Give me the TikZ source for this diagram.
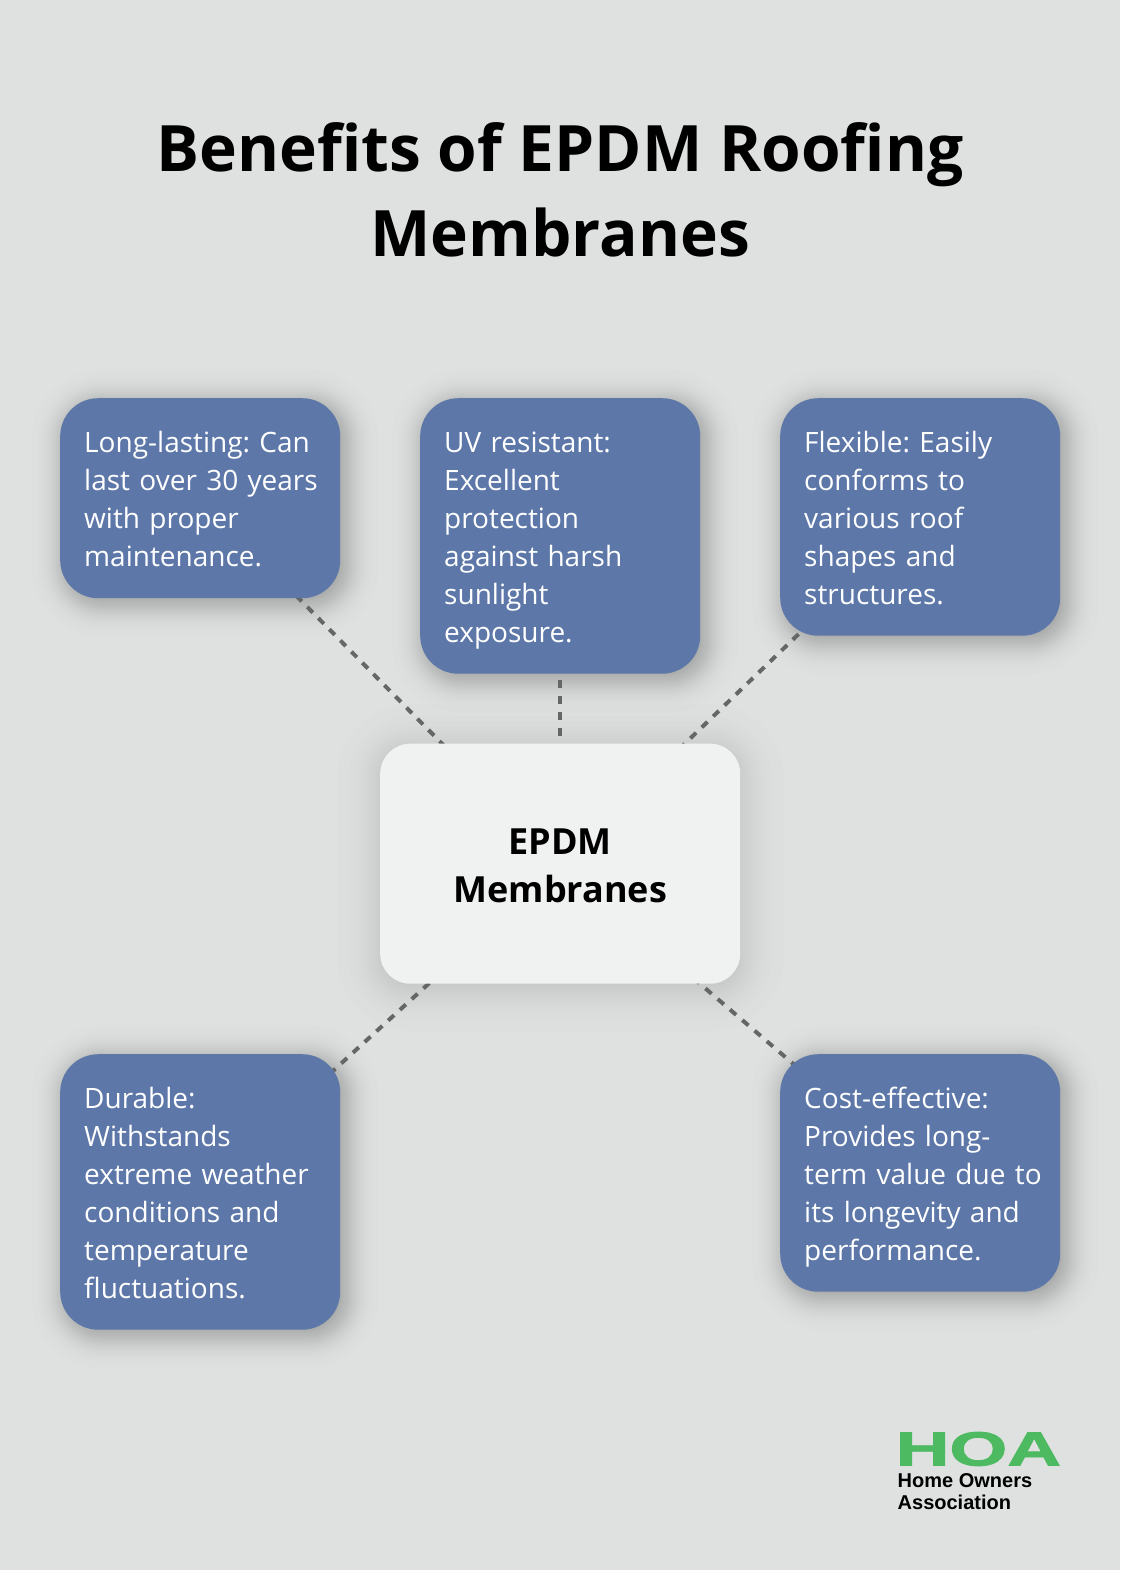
\documentclass[tikz,border=0pt]{standalone}
\usepackage{fontspec}
\usepackage{graphicx}
\setmainfont{Open Sans}
\newfontfamily\logofont[BoldFeatures={FakeBold=1.6}]{Liberation Sans}
\newfontfamily\logonamefont{Liberation Sans}
\usetikzlibrary{calc}
\pgfdeclarelayer{shadowlayer}
\pgfdeclarelayer{linklayer}
\pgfsetlayers{shadowlayer,linklayer,main}
\definecolor{bgc}{HTML}{DEE1E0}
\definecolor{bluec}{HTML}{5C77A8}
\definecolor{paleC}{HTML}{F0F2F1}
\definecolor{dashc}{HTML}{666666}
\definecolor{logog}{HTML}{4DB961}
% Gaussian-like soft shadow of a card: node only
\newcommand{\cardshadow}[1]{%
  \foreach \z in {2.24,1.78,1.54,1.37,1.23,1.11,1.01,0.91,0.82,0.74,0.66,0.59,0.52,0.45,0.39,0.32,0.26,0.19,0.13,0.06,-0.06,-0.13,-0.19,-0.26,-0.32,-0.39,-0.45,-0.52,-0.59,-0.66}{%
    \pgfmathsetmacro{\sz}{15*\z}%
    \pgfmathsetmacro{\rr}{max(38+\sz,1)}%
    \fill[black,fill opacity=0.0089,rounded corners=\rr pt]
      ($(#1.north west)+(5-\sz,5-\sz)$) rectangle ($(#1.south east)+(5+\sz,5+\sz)$);
  }%
}
% Wider, fainter shadow of the central box
\newcommand{\hubshadow}[1]{%
  \foreach \z in {1.96,1.44,1.15,0.93,0.76,0.60,0.45,0.32,0.19,0.06,-0.06,-0.19,-0.32,-0.45,-0.60,-0.76,-0.93}{%
    \pgfmathsetmacro{\sz}{22*\z}%
    \pgfmathsetmacro{\rr}{max(30+\sz,1)}%
    \fill[black,fill opacity=0.0081,rounded corners=\rr pt]
      ($(#1.north west)+(-\sz,4-\sz)$) rectangle ($(#1.south east)+(\sz,4+\sz)$);
  }%
}
\frenchspacing
\tikzset{
  card/.style={anchor=north west,fill=bluec,text=white,rounded corners=38pt,
    minimum width=280pt,text width=232pt,inner xsep=24pt,inner ysep=0pt,align=left,
    font=\fontsize{28}{38}\selectfont\frenchspacing,
    execute at begin node={\fontsize{28}{38}\selectfont\fontdimen2\font=5.3pt\relax\rule[-7.5pt]{0pt}{38.5pt}},
    execute at end node=\rule[-7.5pt]{0pt}{38.5pt}},
  hub/.style={anchor=north west,fill=paleC,text=black,rounded corners=30pt,
    minimum width=360pt,minimum height=240pt,align=center,inner sep=0pt,
    font=\fontsize{36}{48}\selectfont\bfseries},
  link/.style 2 args={dashc,line width=4pt,dash pattern=on #1pt off #1pt,dash phase=#2pt},
  heading/.style={align=center,inner sep=0pt,font=\fontsize{64}{85}\selectfont\bfseries},
  logoname/.style={align=left,inner sep=0pt,text=black,font=\logonamefont\bfseries\fontsize{20}{22}\selectfont},
}
\begin{document}
\begin{tikzpicture}[x=1pt,y=-1pt]
\useasboundingbox (0,0) rectangle (1120,1570);
\begin{pgfonlayer}{shadowlayer}
\fill[bgc] (0,0) rectangle (1120,1570);
\end{pgfonlayer}

\node[heading,anchor=base] (title) at (560,256) {Benefits of EPDM Roofing\\Membranes};

\node[card,minimum height=200pt] (a) at (60,398) {Long-lasting: Can\\\mbox{last over 30 years}\\with proper\\maintenance.};
\node[card,minimum height=275.5pt] (b) at (420,398) {UV resistant:\\Excellent\\protection\\against harsh\\sunlight\\exposure.};
\node[card,minimum height=237.5pt] (c) at (780,398) {Flexible: Easily\\conforms to\\various roof\\shapes and\\structures.};
\node[card,minimum height=275.5pt] (d) at (60,1054) {Durable:\\Withstands\\extreme weather\\conditions and\\temperature\\fluctuations.};
\node[card,minimum height=237.5pt] (e) at (780,1054) {Cost-effective:\\Provides long-\\\mbox{term value due to}\\its longevity and\\performance.};
\node[hub] (h) at (380,743.5) {\raisebox{-2pt}[25pt][0pt]{EPDM}\\\raisebox{-2pt}[25pt][0pt]{Membranes}};

\node[anchor=base west,inner sep=0pt,text=logog] (logomark) at (895.5,1465.5)
  {\scalebox{1.55}[1]{\logofont\bfseries\fontsize{48}{48}\selectfont HOA}};
\node[logoname,anchor=base west] (logotext) at (897.5,1509) {Home Owners\\Association};

\begin{pgfonlayer}{shadowlayer}
\cardshadow{a}
\cardshadow{b}
\cardshadow{c}
\cardshadow{d}
\cardshadow{e}
\hubshadow{h}
\end{pgfonlayer}

\begin{pgfonlayer}{linklayer}
\draw[link={7.85}{4.4}] (a.center) -- (h.center);
\draw[link={8}{0}] (b.center) -- (h.center);
\draw[link={7.9}{4.85}] (c.center) -- (h.center);
\draw[link={7.95}{0}] (d.center) -- (h.center);
\draw[link={8.1}{0.35}] (e.center) -- (h.center);
\end{pgfonlayer}
\end{tikzpicture}
\end{document}
